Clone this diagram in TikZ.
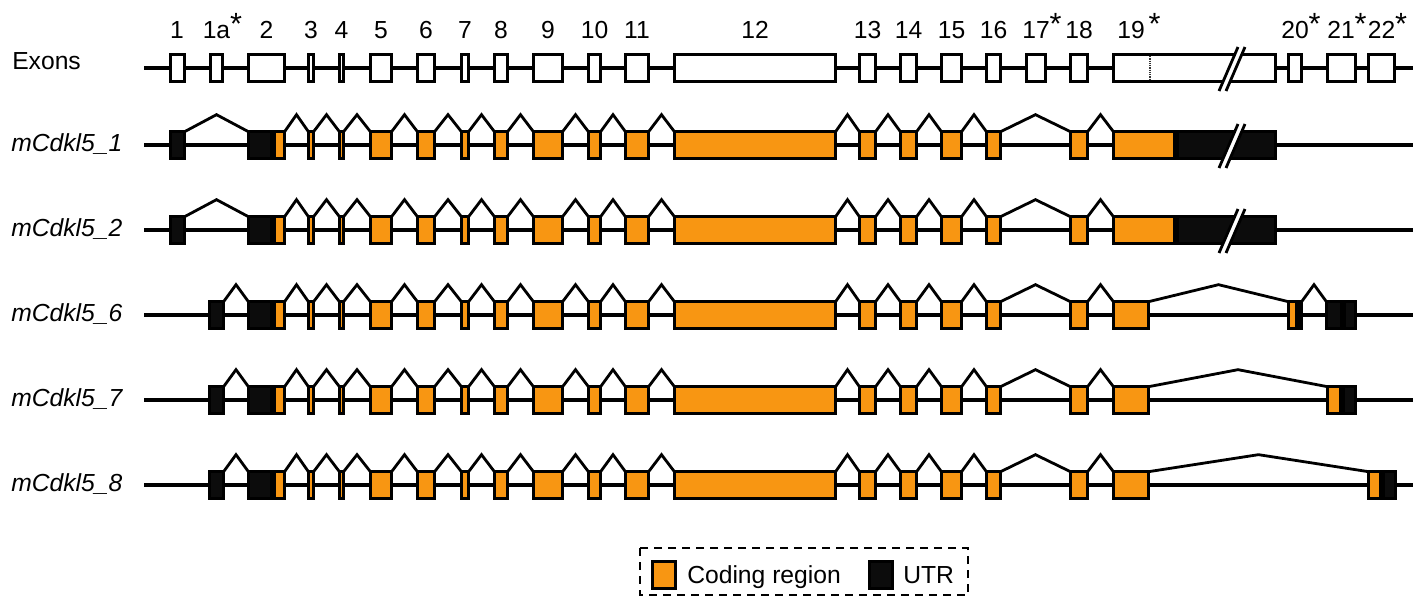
\documentclass[tikz,border=0pt]{standalone}
\usepackage{fontspec}
\setmainfont{Liberation Sans}
\usetikzlibrary{calc}
\definecolor{cdsorange}{RGB}{248,150,18}
\definecolor{utrblack}{RGB}{12,12,12}
\tikzset{
  exbase/.style={draw=black, line width=2.1pt, inner sep=0pt, outer sep=0pt, minimum height=20pt},
  plainex/.style={exbase, fill=white},
  cds/.style={exbase, fill=cdsorange},
  utr/.style={exbase, fill=utrblack},
  backbone/.style={line width=3.2pt},
  intronline/.style={line width=2.1pt, line join=miter},
  brkline/.style={line width=2.1pt},
  lbl/.style={font=\fontsize{18.5}{20}\selectfont, inner sep=0pt, anchor=base},
  rowlbl/.style={font=\fontsize{18.5}{20}\selectfont\itshape, inner sep=0pt, anchor=base west},
  uplbl/.style={font=\fontsize{18.5}{20}\selectfont, inner sep=0pt, anchor=base west},
}
\newcommand\exn[5]{\node[#5, minimum width={(#3-#2-2.8)*0.75}] (#1) at ({(#2+#3)/2},#4) {};}
\newcommand\intr[2]{\draw[intronline] (#1.north east) -- ($(#1.north east)!0.5!(#2.north west)+(0,-17)$) -- (#2.north west);}
\newcommand\brk[2]{%
  \fill[white] (1219,#1+23) -- (1238,#1-21) -- (1245,#1-21) -- (1226,#1+23) -- cycle;
  \draw[brkline] (1219,#1+23) coordinate (#2a) -- (1238,#1-21) coordinate (#2b);
  \draw[brkline] (1226,#1+23) coordinate (#2c) -- (1245,#1-21) coordinate (#2d);}
\newcommand\st{\rlap{\raisebox{3pt}{\fontsize{23}{23}\selectfont *}}}
\begin{document}
\begin{tikzpicture}[x=0.75pt,y=-0.75pt]
\useasboundingbox (0,0) rectangle (1418,596);

% ---------- exon labels ----------
\foreach \x/\t in {177/1, 216.5/1a\st, 266.5/2, 311/3, 341.5/4, 381/5, 426/6, 465/7, 501/8, 548/9, 594.5/10, 637/11, 755/12, 867.5/13, 908.5/14, 951.5/15, 993.5/16, 1036/17\st, 1079/18, 1131/19\rlap{\kern3pt\raisebox{3pt}{\fontsize{23}{23}\selectfont *}}, 1295/20\st, 1341/21\st, 1381.5/22\st}
  \node[lbl] (lab\x) at (\x,38) {\t};

% ---------- exon row ----------
\node[uplbl] (exlabel) at (12,69) {Exons};
\coordinate (x0s) at (144,68);
\coordinate (x0e) at (1413,68);
\draw[backbone] (x0s) -- (x0e);
\foreach \n/\a/\b in {1/169/186, 1a/209/224, 2/247/286, 3/307/315, 4/338/345, 5/369/393, 6/416/436, 7/460/470, 8/493/509, 9/532/564, 10/587/602, 11/624/650, 12/673/837, 13/858/877, 14/899/918, 15/940/963, 16/985/1002, 17/1025/1047, 18/1069/1089, 19/1112/1277, 20/1287/1303, 21/1326/1357, 22/1367/1396}
  {\exn{x0e\n}{\a}{\b}{68}{plainex}}
\draw[line width=1.3pt, black!80, dash pattern=on 1pt off 0.7pt] (1150,56) coordinate (dt1) -- (1150,80) coordinate (dt2);
\brk{68}{bx0}

% ---------- transcripts 1 and 2 ----------
\foreach \p/\y/\t in {r1/145/1, r2/230/2} {
  \node[rowlbl] (\p lab) at (11,\y+6) {mCdkl5\_\t};
  \coordinate (\p s) at (144,\y);
  \coordinate (\p e) at (1413,\y);
  \draw[backbone] (\p s) -- (\p e);
  \exn{\p e1}{169}{186}{\y}{utr}
  \exn{\p e2u}{247}{273}{\y}{utr}
  \exn{\p e2}{273}{286}{\y}{cds}
  \foreach \n/\a/\b in {3/307/315, 4/338/345, 5/369/393, 6/416/436, 7/460/470, 8/493/509, 9/532/564, 10/587/602, 11/624/650, 12/673/837, 13/858/877, 14/899/918, 15/940/963, 16/985/1002, 18/1069/1089}
    {\exn{\p e\n}{\a}{\b}{\y}{cds}}
  \exn{\p e19}{1112}{1176}{\y}{cds}
  \exn{\p e19u}{1176}{1277}{\y}{utr}
  \brk{\y}{\p bk}
  \intr{\p e1}{\p e2u}
  \intr{\p e2}{\p e3}
  \foreach \a/\b in {3/4, 4/5, 5/6, 6/7, 7/8, 8/9, 9/10, 10/11, 11/12, 12/13, 13/14, 14/15, 15/16, 16/18, 18/19}
    {\intr{\p e\a}{\p e\b}}
}

% ---------- transcripts 6, 7, 8 ----------
\foreach \p/\y/\t in {r6/315/6, r7/400/7, r8/485/8} {
  \node[rowlbl] (\p lab) at (11,\y+6) {mCdkl5\_\t};
  \coordinate (\p s) at (144,\y);
  \coordinate (\p e) at (1413,\y);
  \draw[backbone] (\p s) -- (\p e);
  \exn{\p e1a}{208}{225}{\y}{utr}
  \exn{\p e2u}{247}{273}{\y}{utr}
  \exn{\p e2}{273}{286}{\y}{cds}
  \foreach \n/\a/\b in {3/307/315, 4/338/345, 5/369/393, 6/416/436, 7/460/470, 8/493/509, 9/532/564, 10/587/602, 11/624/650, 12/673/837, 13/858/877, 14/899/918, 15/940/963, 16/985/1002, 18/1069/1089}
    {\exn{\p e\n}{\a}{\b}{\y}{cds}}
  \exn{\p e19}{1112}{1150}{\y}{cds}
  \intr{\p e1a}{\p e2u}
  \intr{\p e2}{\p e3}
  \foreach \a/\b in {3/4, 4/5, 5/6, 6/7, 7/8, 8/9, 9/10, 10/11, 11/12, 12/13, 13/14, 14/15, 15/16, 16/18, 18/19}
    {\intr{\p e\a}{\p e\b}}
}
% row 6 tail
\exn{r6e20}{1287}{1298}{315}{cds}
\exn{r6e20u}{1298}{1303}{315}{utr}
\exn{r6e21a}{1325}{1343}{315}{utr}
\exn{r6e21}{1343}{1357}{315}{utr}
\intr{r6e19}{r6e20}
\intr{r6e20u}{r6e21a}
% row 7 tail
\exn{r7e21}{1326}{1342}{400}{cds}
\exn{r7e21u}{1342}{1357}{400}{utr}
\intr{r7e19}{r7e21}
% row 8 tail
\exn{r8e22}{1367}{1382}{485}{cds}
\exn{r8e22u}{1382}{1397}{485}{utr}
\intr{r8e19}{r8e22}

% ---------- legend ----------
\draw[line width=1.9pt, dash pattern=on 6pt off 4.5pt] (640,548) coordinate (lg1) rectangle (968,595) coordinate (lg2);
\exn{lgc}{651}{677}{575}{cds}
\node[uplbl] (lgct) at (687,583) {Coding region};
\exn{lgu}{868}{894}{575}{utr}
\node[uplbl] (lgut) at (903,583) {UTR};
\end{tikzpicture}
\end{document}
